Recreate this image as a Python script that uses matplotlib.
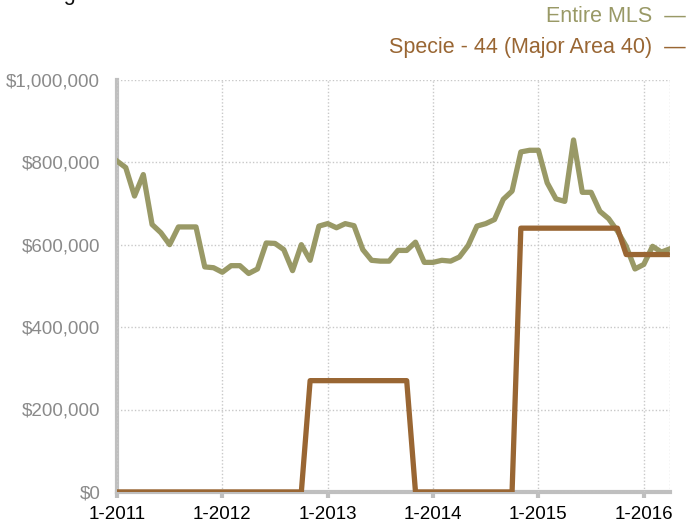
import matplotlib
matplotlib.use("Agg")
import matplotlib.pyplot as plt
from matplotlib.ticker import FuncFormatter, MultipleLocator

# monthly values, Jan 2011 .. Apr 2016
entire_mls = [
    803000, 787000, 718000, 770000, 649000, 629000, 600000, 643000, 643000, 643000,
    546000, 544000, 533000, 549000, 549000, 530000, 541000, 604000, 603000, 588000,
    537000, 600000, 562000, 645000, 651000, 641000, 651000, 646000, 588000, 562000,
    560000, 560000, 586000, 586000, 606000, 557000, 557000, 562000, 560000, 570000,
    598000, 645000, 651000, 661000, 710000, 730000, 825000, 829000, 829000, 750000,
    711000, 705000, 854000, 727000, 727000, 681000, 663000, 633000, 596000, 541000,
    552000, 596000, 582000, 590000,
]
specie_44 = [0] * 22 + [270000] * 12 + [0] * 12 + [640000] * 12 + [576000] * 6
month_idx = list(range(len(entire_mls)))
year_labels = ["1-2011", "1-2012", "1-2013", "1-2014", "1-2015", "1-2016"]

green = "#999966"
brown = "#996633"
axis_gray = "#bfbfbf"

plt.rcParams["font.family"] = ["Liberation Sans", "DejaVu Sans"]

fig = plt.figure(figsize=(6.88, 5.25), dpi=100)
ax = fig.add_axes([0.170, 0.063, 0.804, 0.785])

ax.plot(month_idx, entire_mls, color=green, linewidth=3.8, solid_joinstyle="round")
ax.plot(month_idx, specie_44, color=brown, linewidth=3.8, solid_joinstyle="round")

ax.set_xlim(0, len(month_idx) - 1)
ax.set_ylim(0, 1000000)
ax.yaxis.set_major_locator(MultipleLocator(200000))
ax.yaxis.set_major_formatter(FuncFormatter(lambda v, p: f"${v:,.0f}"))
ax.set_xticks([12 * i for i in range(len(year_labels))])
ax.set_xticklabels(year_labels)

# dotted grid, plus the dotted right edge
ax.grid(True, linestyle=(0, (1, 1.5)), color="#c8c8c8", linewidth=1)
ax.axvline(len(month_idx) - 1, linestyle=(0, (1, 1.5)), color="#c8c8c8", linewidth=1)

for side in ["top", "right"]:
    ax.spines[side].set_visible(False)
for side in ["left", "bottom"]:
    ax.spines[side].set_color(axis_gray)
    ax.spines[side].set_linewidth(3)
    ax.spines[side].set_zorder(1)

ax.tick_params(axis="y", length=0, pad=12, labelsize=13.5, labelcolor="#8a8a8a")
ax.tick_params(axis="x", length=4, width=3, color=axis_gray, pad=6, labelsize=13.5, labelcolor="#000000")

# legend as right-aligned coloured labels at the top
fig.text(0.997, 1 - 16 / 525, "Entire MLS  \u2014", color=green, fontsize=15.5,
         ha="right", va="center")
fig.text(0.997, 1 - 47 / 525, "Specie - 44 (Major Area 40)  \u2014", color=brown, fontsize=15.5,
         ha="right", va="center")

# title, clipped by the top of the picture
fig.text(0.012, 1.0, "Average Sale Price", color="#111111", fontsize=15.5,
         ha="left", va="baseline")

fig.savefig("out.png", dpi=100)
